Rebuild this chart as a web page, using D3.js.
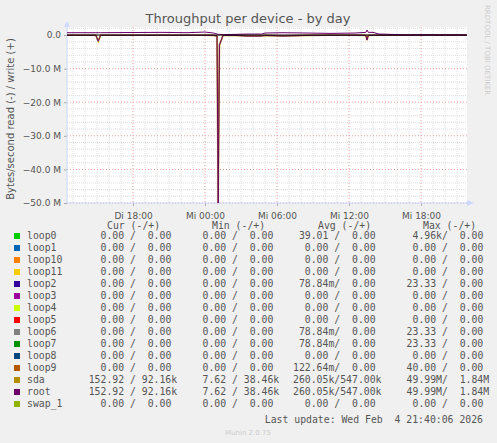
<!DOCTYPE html><html><head><meta charset="utf-8"><script src="https://cdn.jsdelivr.net/npm/d3@7"></script>
<style>body{margin:0;background:#f0f0f0}</style></head><body><svg id="c" width="497" height="443" font-family="DejaVu Sans"></svg>
<script>
// hours since Di 12:30
const times =   [0,2.4,2.6,2.8,5,8,10,11.5,12.2,12.5,12.6,12.7,13,14,15,16.2,16.5,18,20,22,24,24.9,25,25.1,25.5,26,27,28.5,29,31,33.3];
const writeM =  [0.7,0.7,0.7,0.7,0.75,0.8,0.7,0.9,0.6,0.3,0.2,0.2,0.1,0.2,0.3,0.3,0.6,0.7,0.6,0.5,0.6,0.8,1.5,0.8,0.8,0.3,0.2,0.05,0.1,0.1,0.05];
const readM =   [0.05,0.05,1.8,0.05,0.05,0.05,0.05,0.05,0.1,0.3,50,3,0.1,0.1,0.3,0.3,0.1,0.3,0.1,0.05,0.05,0.1,1.5,0.1,0.05,0.05,0.05,0.05,0.05,0.05,0.05];
const yTicks = [0,-10,-20,-30,-40,-50];
const xTickHours = [5.5,11.5,17.5,23.5,29.5];
const xTickLabels = ["Di 18:00","Mi 00:00","Mi 06:00","Mi 12:00","Mi 18:00"];
const names = ["loop0","loop1","loop10","loop11","loop2","loop3","loop4","loop5","loop6","loop7","loop8","loop9","sda","root","swap_1"];
const colors = ["#00cc00","#0066b3","#ff8000","#ffcc00","#330099","#990099","#ccff00","#ff0000","#808080","#008f00","#00487d","#b35a00","#b38f00","#6b006b","#8fb300"];
const cur = ["0.00 /  0.00","0.00 /  0.00","0.00 /  0.00","0.00 /  0.00","0.00 /  0.00","0.00 /  0.00","0.00 /  0.00","0.00 /  0.00","0.00 /  0.00","0.00 /  0.00","0.00 /  0.00","0.00 /  0.00","152.92 / 92.16k","152.92 / 92.16k","0.00 /  0.00"];
const mins = ["0.00 /  0.00","0.00 /  0.00","0.00 /  0.00","0.00 /  0.00","0.00 /  0.00","0.00 /  0.00","0.00 /  0.00","0.00 /  0.00","0.00 /  0.00","0.00 /  0.00","0.00 /  0.00","0.00 /  0.00","7.62 / 38.46k","7.62 / 38.46k","0.00 /  0.00"];
const avgs = ["39.01 /  0.00","0.00 /  0.00","0.00 /  0.00","0.00 /  0.00","78.84m/  0.00","0.00 /  0.00","0.00 /  0.00","0.00 /  0.00","78.84m/  0.00","78.84m/  0.00","0.00 /  0.00","122.64m/  0.00","260.05k/547.00k","260.05k/547.00k","0.00 /  0.00"];
const maxs = ["4.96k/  0.00","0.00 /  0.00","0.00 /  0.00","0.00 /  0.00","23.33 /  0.00","0.00 /  0.00","0.00 /  0.00","0.00 /  0.00","23.33 /  0.00","23.33 /  0.00","0.00 /  0.00","40.00 /  0.00","49.99M/  1.84M","49.99M/  1.84M","0.00 /  0.00"];

const svg=d3.select("#c");
const x=d3.scaleLinear().domain([0,33.33]).range([67,467]);
const y=d3.scaleLinear().domain([-50,2.4]).range([203,27]);
svg.append("rect").attr("x",67).attr("y",27).attr("width",400).attr("height",176).attr("fill","#fff");
const g=svg.append("g");
for(let v=-50;v<=2;v+=2){ if(v%10) g.append("line").attr("x1",67).attr("x2",467).attr("y1",y(v)).attr("y2",y(v)).attr("stroke","#ddd").attr("stroke-dasharray","1,1");}
for(let h=0.5;h<=33;h+=1){ if(!xTickHours.includes(h)) g.append("line").attr("x1",x(h)).attr("x2",x(h)).attr("y1",27).attr("y2",203).attr("stroke","#ddd").attr("stroke-dasharray","1,1");}
yTicks.forEach(v=>g.append("line").attr("x1",67).attr("x2",467).attr("y1",y(v)).attr("y2",y(v)).attr("stroke","#f0a0a0").attr("stroke-dasharray","1,2"));
xTickHours.forEach(h=>g.append("line").attr("x1",x(h)).attr("x2",x(h)).attr("y1",27).attr("y2",203).attr("stroke","#f0a0a0").attr("stroke-dasharray","1,2"));
const ya=svg.append("g").attr("transform","translate(67,0)").call(d3.axisLeft(y).tickValues(yTicks).tickSize(3).tickFormat(d=>d3.format(".1f")(d)+(d?" M":"")));
const xa=svg.append("g").attr("transform","translate(0,203)").call(d3.axisBottom(x).tickValues(xTickHours).tickSize(3).tickFormat((d,i)=>xTickLabels[i]));
[ya,xa].forEach(a=>{a.attr("font-family",null).attr("font-size",null);a.select(".domain").remove();a.selectAll("line").attr("stroke","#aaa");a.selectAll("text").style("font-family","DejaVu Sans").style("font-size","9px").attr("fill","#555");});
xa.selectAll("text").attr("dy","1.1em");
svg.append("line").attr("x1",67).attr("x2",67).attr("y1",203).attr("y2",23).attr("stroke","#ccd8ff");
svg.append("line").attr("x1",67).attr("x2",471).attr("y1",203).attr("y2",203).attr("stroke","#ccd8ff");
svg.append("path").attr("d","M64,27L67,21L70,27Z").attr("fill","#ccd8ff");
svg.append("path").attr("d","M467,200L474,203L467,206Z").attr("fill","#ccd8ff");
const idx=d3.range(times.length);
const wl=d3.line().x(i=>x(times[i])).y(i=>y(writeM[i]))(idx), rl=d3.line().x(i=>x(times[i])).y(i=>y(-readM[i]))(idx);
svg.append("path").attr("d",rl).attr("fill","none").attr("stroke","#b38f00").attr("stroke-width",1.6);
svg.append("path").attr("d",wl).attr("fill","none").attr("stroke","#6b006b").attr("stroke-width",1);
svg.append("path").attr("d",rl).attr("fill","none").attr("stroke","#6b006b").attr("stroke-width",1);
svg.append("line").attr("x1",67).attr("x2",467).attr("y1",y(0)).attr("y2",y(0)).attr("stroke","#000");
svg.append("text").attr("x",248).attr("y",23).attr("text-anchor","middle").attr("font-size",13).attr("fill","#555").text("Throughput per device - by day");
svg.append("text").attr("transform","translate(14,119) rotate(-90)").attr("text-anchor","middle").attr("font-size",10).attr("fill","#555").text("Bytes/second read (-) / write (+)");
svg.append("text").attr("transform","translate(485,5) rotate(90)").attr("font-size",7).attr("fill","#ccc").text("RRDTOOL / TOBI OETIKER");
const mono=s=>s.style("font-family","'DejaVu Sans Mono', monospace").style("font-size","9.8px").attr("fill","#555").style("white-space","pre");
const heads=[["Cur (-/+)",107],["Min (-/+)",212],["Avg (-/+)",318],["Max (-/+)",423]];
heads.forEach(h=>mono(svg.append("text").attr("x",h[1]).attr("y",229)).text(h[0]));
const cw=5.9, slashX=[130,232,334.3,442];
names.forEach((n,i)=>{
  const yy=239+i*12;
  svg.append("rect").attr("x",14).attr("y",yy-6).attr("width",6).attr("height",6).attr("fill",colors[i]);
  mono(svg.append("text").attr("x",27).attr("y",yy)).text(n);
  [cur[i],mins[i],avgs[i],maxs[i]].forEach((s,j)=>{
    const k=s.indexOf("/");
    mono(svg.append("text").attr("x",slashX[j]-k*cw).attr("y",yy)).text(s);
  });
});
mono(svg.append("text").attr("x",483).attr("y",423).attr("text-anchor","end")).text("Last update: Wed Feb  4 21:40:06 2026");
svg.append("text").attr("x",248).attr("y",435).attr("text-anchor","middle").attr("font-size",7).attr("fill","#ccc").text("Munin 2.0.75");
</script></body></html>
